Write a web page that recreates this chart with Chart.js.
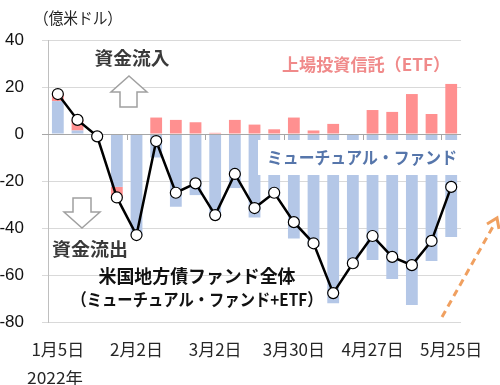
<!DOCTYPE html>
<html><head><meta charset="utf-8">
<script src="https://cdn.jsdelivr.net/npm/chart.js@4.4.0/dist/chart.umd.min.js"></script>
<style>html,body{margin:0;padding:0;background:#fff;}#wrap{width:500px;height:385px;position:relative;}</style>
</head><body><div id="wrap"><canvas id="c" width="500" height="385"></canvas></div>
<script>
const categories = ['1月5日','1月12日','1月19日','1月26日','2月2日','2月9日','2月16日','2月23日','3月2日','3月9日','3月16日','3月23日','3月30日','4月6日','4月13日','4月20日','4月27日','5月4日','5月11日','5月18日','5月25日'];
const mutualFund = [14, 1.5, -1, -22.5, -43, -10, -31, -26, -35, -23, -35.5, -27, -44.5, -48, -72, -55, -53.6, -61.7, -72.8, -54, -43.8];
const etf = [3, 4.5, 0.2, -4.5, 0, 7, 6, 5, 0.5, 6, 4, 2, 7, 1.5, 4.3, 0, 10.2, 9.4, 17, 8.5, 21.3];
const total = [17, 6, -1, -27, -43, -3, -25, -21, -34.5, -17, -31.5, -25, -37.5, -46.5, -67.7, -55, -43.4, -52.3, -55.8, -45.5, -22.5];
const yTicks = [40, 20, 0, -20, -40, -60, -80];
const labelEvery = 4;

const CJK = '"Noto Sans CJK JP", "Noto Sans", sans-serif';

function txt(ctx, s, cx, cy, w, size, color, weight) {
  ctx.save();
  ctx.font = weight + ' ' + size + 'px ' + CJK;
  ctx.fillStyle = color; ctx.textBaseline = 'middle'; ctx.textAlign = 'center';
  const m = ctx.measureText(s).width;
  const k = w ? w / m : 1;
  ctx.translate(cx, cy); ctx.scale(k, 1); ctx.fillText(s, 0, 0);
  ctx.restore();
}

const deco = {
  id: 'deco',
  afterDatasetsDraw() {},
  afterDatasetDraw(chart, args) {
    if (args.index !== 0) return; // MF bars are drawn last among the bars
    const ctx = chart.ctx, x = chart.scales.x, y = chart.scales.y, a = chart.chartArea;
    const y0 = y.getPixelForValue(0);
    ctx.save();
    ctx.strokeStyle = '#a6a6a6'; ctx.lineWidth = 1;
    ctx.beginPath(); ctx.moveTo(a.left, Math.round(y0) + 0.5); ctx.lineTo(a.right, Math.round(y0) + 0.5); ctx.stroke();
    for (let i = labelEvery; i < categories.length; i += labelEvery) {
      const px = Math.round((x.getPixelForValue(i - 1) + x.getPixelForValue(i)) / 2) + 0.5;
      ctx.beginPath(); ctx.moveTo(px, y0); ctx.lineTo(px, y0 + 6); ctx.stroke();
    }
    ctx.fillStyle = '#fff';
    ctx.fillRect(258, 140, 203, 35);
    ctx.restore();
    txt(ctx, 'ミューチュアル・ファンド', 362, 158, 190, 17, '#5676ab', 'bold');
  },
  afterDraw(chart) {
    const ctx = chart.ctx;
    txt(ctx, '（億米ドル）', 78, 18, 88, 16, '#222', 'normal');
    txt(ctx, '資金流入', 132, 58, 75, 18, '#3a3a3a', 'bold');
    txt(ctx, '資金流出', 90, 249, 76, 18, '#3a3a3a', 'bold');
    txt(ctx, '米国地方債ファンド全体', 197, 276, 197, 18, '#111', 'bold');
    txt(ctx, '（ミューチュアル・ファンド+ETF）', 197, 300, 251, 17, '#111', 'bold');
    txt(ctx, '上場投資信託（ETF）', 366, 65, 168, 17, '#f08a8a', 'bold');
    txt(ctx, '2022年', 55, 378, 56, 16, '#262626', 'normal');
    ctx.save();
    ctx.strokeStyle = '#a0a0a0'; ctx.lineWidth = 1.5; ctx.fillStyle = '#fff';
    ctx.beginPath();
    ctx.moveTo(129, 76); ctx.lineTo(147, 92); ctx.lineTo(137, 92); ctx.lineTo(137, 107);
    ctx.lineTo(120, 107); ctx.lineTo(120, 92); ctx.lineTo(111, 92); ctx.closePath();
    ctx.fill(); ctx.stroke();
    ctx.beginPath();
    ctx.moveTo(82, 228); ctx.lineTo(100, 212); ctx.lineTo(91, 212); ctx.lineTo(91, 198);
    ctx.lineTo(73, 198); ctx.lineTo(73, 212); ctx.lineTo(64, 212); ctx.closePath();
    ctx.fill(); ctx.stroke();
    ctx.strokeStyle = '#f0a060'; ctx.lineWidth = 3; ctx.setLineDash([7, 5]);
    ctx.beginPath(); ctx.moveTo(442, 317); ctx.lineTo(495, 223); ctx.stroke();
    ctx.setLineDash([]);
    ctx.beginPath(); ctx.moveTo(487, 224); ctx.lineTo(497, 218); ctx.lineTo(499, 229); ctx.stroke();
    ctx.restore();
  }
};

new Chart(document.getElementById('c'), {
  type: 'bar',
  data: {
    labels: categories,
    datasets: [
      { type: 'bar', label: 'ミューチュアル・ファンド', data: mutualFund, backgroundColor: '#b4c7e7', stack: 'flows', order: 1, barPercentage: 0.6, categoryPercentage: 1.0 },
      { type: 'bar', label: '上場投資信託（ETF）', data: etf, backgroundColor: '#ff9090', stack: 'flows', order: 1, barPercentage: 0.6, categoryPercentage: 1.0 },
      { type: 'line', label: '米国地方債ファンド全体', data: total, stack: 'total', order: 0, borderColor: '#000', borderWidth: 2.5, tension: 0,
        pointRadius: 5.5, pointBackgroundColor: '#fff', pointBorderColor: '#000', pointBorderWidth: 1.2, fill: false }
    ]
  },
  options: {
    responsive: false, animation: false, devicePixelRatio: 1,
    layout: { padding: { left: 0, right: 27, top: 40, bottom: 0 } },
    plugins: { legend: { display: false }, tooltip: { enabled: false } },
    scales: {
      x: {
        stacked: true,
        grid: { display: false, drawTicks: false },
        border: { display: false },
        ticks: { autoSkip: false, maxRotation: 0, minRotation: 0, padding: 17, color: '#262626',
          font: { family: CJK, size: 17 },
          callback: (v, i) => (i % labelEvery === 0 ? categories[i] : '') },
        afterFit: s => { s.height = 63; }
      },
      y: {
        stacked: true, min: -80, max: 40,
        afterBuildTicks: s => { s.ticks = yTicks.map(v => ({ value: v })); },
        grid: { color: c => (c.tick && c.tick.value === 0 ? '#a6a6a6' : '#d9d9d9'), tickLength: 6, lineWidth: 1 },
        border: { display: true, color: '#bfbfbf' },
        ticks: { padding: 18, color: '#111', font: { family: '"Liberation Sans", Arial, sans-serif', size: 17 } },
        afterFit: s => { s.width = 48; }
      }
    }
  },
  plugins: [deco]
});
</script></body></html>
